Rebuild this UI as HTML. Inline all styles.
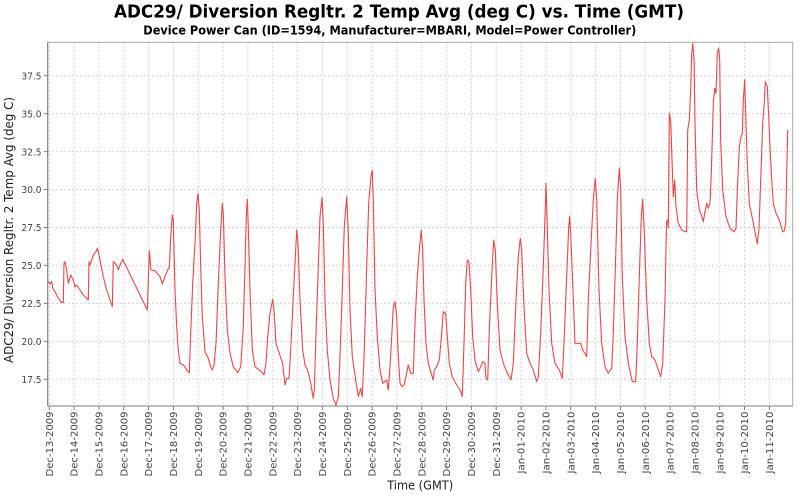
<!DOCTYPE html>
<html>
<head>
<meta charset="utf-8">
<style>
html,body{margin:0;padding:0;background:#fff;}
svg{display:block;}
text{font-family:"DejaVu Sans","Liberation Sans",sans-serif;}
</style>
</head>
<body>
<svg width="800" height="500" viewBox="0 0 800 500" xmlns="http://www.w3.org/2000/svg">
<rect x="0" y="0" width="800" height="500" fill="#fff"/>
<!-- Title -->
<text x="114" y="17.5" font-size="18" font-weight="bold" fill="#000" textLength="570" lengthAdjust="spacingAndGlyphs">ADC29/ Diversion Regltr. 2 Temp Avg (deg C) vs. Time (GMT)</text>
<text x="143.3" y="34.3" font-size="12" font-weight="bold" fill="#000" textLength="493" lengthAdjust="spacingAndGlyphs">Device Power Can (ID=1594, Manufacturer=MBARI, Model=Power Controller)</text>

<!-- plot background -->
<rect x="47.7" y="42.3" width="745" height="363.7" fill="#fff"/>

<!-- grid -->
<g stroke="#d2d2d2" stroke-width="1" stroke-dasharray="2,2" fill="none">
<line x1="48" x2="792.7" y1="379.3" y2="379.3"/>
<line x1="48" x2="792.7" y1="341.35" y2="341.35"/>
<line x1="48" x2="792.7" y1="303.4" y2="303.4"/>
<line x1="48" x2="792.7" y1="265.4" y2="265.4"/>
<line x1="48" x2="792.7" y1="227.5" y2="227.5"/>
<line x1="48" x2="792.7" y1="189.55" y2="189.55"/>
<line x1="48" x2="792.7" y1="151.6" y2="151.6"/>
<line x1="48" x2="792.7" y1="113.65" y2="113.65"/>
<line x1="48" x2="792.7" y1="75.7" y2="75.7"/>
<line y1="42.3" y2="406" x1="49.3" x2="49.3"/>
<line y1="42.3" y2="406" x1="74.1" x2="74.1"/>
<line y1="42.3" y2="406" x1="99.0" x2="99.0"/>
<line y1="42.3" y2="406" x1="123.8" x2="123.8"/>
<line y1="42.3" y2="406" x1="148.6" x2="148.6"/>
<line y1="42.3" y2="406" x1="173.5" x2="173.5"/>
<line y1="42.3" y2="406" x1="198.3" x2="198.3"/>
<line y1="42.3" y2="406" x1="223.1" x2="223.1"/>
<line y1="42.3" y2="406" x1="247.9" x2="247.9"/>
<line y1="42.3" y2="406" x1="272.8" x2="272.8"/>
<line y1="42.3" y2="406" x1="297.6" x2="297.6"/>
<line y1="42.3" y2="406" x1="322.4" x2="322.4"/>
<line y1="42.3" y2="406" x1="347.3" x2="347.3"/>
<line y1="42.3" y2="406" x1="372.1" x2="372.1"/>
<line y1="42.3" y2="406" x1="396.9" x2="396.9"/>
<line y1="42.3" y2="406" x1="421.8" x2="421.8"/>
<line y1="42.3" y2="406" x1="446.6" x2="446.6"/>
<line y1="42.3" y2="406" x1="471.4" x2="471.4"/>
<line y1="42.3" y2="406" x1="496.2" x2="496.2"/>
<line y1="42.3" y2="406" x1="521.1" x2="521.1"/>
<line y1="42.3" y2="406" x1="545.9" x2="545.9"/>
<line y1="42.3" y2="406" x1="570.7" x2="570.7"/>
<line y1="42.3" y2="406" x1="595.6" x2="595.6"/>
<line y1="42.3" y2="406" x1="620.4" x2="620.4"/>
<line y1="42.3" y2="406" x1="645.2" x2="645.2"/>
<line y1="42.3" y2="406" x1="670.1" x2="670.1"/>
<line y1="42.3" y2="406" x1="694.9" x2="694.9"/>
<line y1="42.3" y2="406" x1="719.7" x2="719.7"/>
<line y1="42.3" y2="406" x1="744.5" x2="744.5"/>
<line y1="42.3" y2="406" x1="769.4" x2="769.4"/>
</g>

<!-- series -->
<polyline fill="none" stroke="#e8474a" stroke-width="1.1" stroke-linejoin="round" points="
47.7,281 50,284 51.7,281.7 52.7,288 55,291.7 58.3,298.3 60.7,301.7 63.3,302.7 64,263.3 65,261.7 66.7,270 68.3,283.3 70.7,275 73.3,280 75,286.7 76.7,285 80,290 83.3,295 86.7,298.3 88.3,300 89,261.7 90,265 91.7,260 93.3,255 96,251.7 97.3,248.3 98.3,251.7 100,260 103.3,276.7 106.7,290 110,300 112.3,306.7 113.3,261.7 115,263.3 116.7,265 118.3,270 120,265 122.7,259.3 147.3,310 149.3,250.7 151,270 155,270.7 160,276.7 162.3,284 165,276.7 168.3,268.3 169.3,268.3 170.7,236.7 172.3,215 173.3,220
175,290 176.7,326.7 178.3,350 180,363.3 183.3,365 185,366.7 186.7,370 189.3,372.7 190.7,333.3 192.7,283.3 195,243.3 196.7,203.3 198,193.3 199.3,210 200.7,266.7 202.3,316.7 205,351.7 208.3,358.3 210.7,366.7 212.3,370 214,365 216,343.3 218.3,283.3 220.7,230 222.3,203.3 223.3,213.3 225,276.7 227.3,330 230,353.3 233.3,366.7 237.7,372.7 240.7,366.7 243.3,326.7 245,266.7 246.3,216.7 247.3,199.3 248.3,226.7 250,290 252.3,350 255,366.7 258.3,369.3 261.7,371.7 264,375 266,363.3 267.7,336.7 270,313.3 272.7,299.3 274,310 276,343.3 279.3,353.3 282.7,363.3 285,385 286.7,378.3 289,378.3 290.7,350 293.3,296.7 295.7,250 296.7,230 298,243.3 300,300 302.7,350 305,365 307.7,370 310.7,383.3 313.3,398.3 314.3,390 316,333.3 318.3,266.7 320,216.7 322,197.7 323.3,223.3 325,300 327.3,350 330,380 333.3,398.3 336,405 338.3,396.7 340,356.7 342.3,290 344.3,226.7 346.7,196.7 348.3,233.3 350,310 352.3,356.7 355.7,380 358.3,396.7 360.7,388.3 362.3,396.7 364.3,350 366.7,266.7 368.7,203.3 371,176.7 372.3,170 373.3,200 375,290 377.3,336.7 380,370 382.7,383.3 386.7,380 388.3,390 390,366.7 391.7,336.7 393.3,306.7 395,301.7 396.7,316.7 398.3,356.7 400,383.3 402,386.7 404,385 406,376.7 408.3,365 410.7,373.3 413.3,373.3
415,323.3 417.3,276.7 419.3,250 421.3,230 422.7,250 424,300 426,343.3 428.3,363.3 430.7,371.7 433.3,380 434.3,370 436.7,366.7 439.3,360 441.7,333.3 443.3,311.7 445.7,313.3 447.3,336.7 449.3,363.3 452.3,376.7 456.7,385 460,390 462.3,396.7 464,343.3 465.7,283.3 467.3,260 469,261.7 470.7,290 472.7,336.7 475,360 478.3,371.7 480.7,366.7 482.7,361.7 485,363.3 486,378.3 487.7,380 489.3,330 491.7,276.7 493.7,240 495.3,250 497.3,303.3 500,350 503.3,363.3 506.7,371.7 511,380 513.3,363.3 516,300 518.3,256.7 520.3,238.3 521.7,250 524,306.7 526.7,353.3 530,363.3 533.3,370 536.7,381.7 538.3,376.7 540.7,333.3 543.3,266.7 545,216.7 546,183.3 547,216.7 549,290 551.7,343.3 555,363.3 559.3,370 562.3,378.3 564,343.3 566.7,276.7 568.7,226.7 569.7,216.7 571,240 572.7,283.3 575,343.3 578.3,343.3 580.7,343.3 582.7,350 586.7,356.7 588.3,300 590.7,250 593.3,200 595.3,178.3 596.7,200 599,290 601.7,343.3 605,366.7 608.3,373.3 611.7,368.3 613.3,333.3 615.7,256.7 617.3,200 619.3,168.3 620.7,190 622.3,276.7 625,336.7 628.3,363.3 632.3,381.7 635.7,381.7 637.3,343.3 639.3,276.7 641.3,216.7 642.7,199.3 644.3,233.3 646.7,300 649.3,343.3 651.7,356.7 655,360 658.3,370 660.7,376.7 662.7,363.3 665,300 666.5,222 667.5,220 668.3,228
669.3,113.3 670.7,120 672,160 673.3,196.7 674.7,180 676,206.7 678.3,223.3 681.7,230 685,231.7 686.7,231.7 687.7,130 689.3,120 690.7,90 691.7,53.3 692.7,43.3 694,60 695,123.3 696.7,190 699.3,210 702,216.7 703.3,221.7 705.3,210 706.7,203.3 708.3,208.3 710,203.3 711.3,173.3 713.3,103.3 714.7,88.3 716,93.3 717.3,53.3 718.7,48.3 719.7,60 720.7,140 722.7,190 726,216.7 730,228.3 734,231.7 736,228.3 737.3,190 739.3,146.7 741,136.7 742.3,133.3 743.3,100 744.7,80 746,123.3 747.3,163.3 749.3,203.3 752.7,220 755.3,233.3 757.3,244 759,228.3 760.7,180 762.7,123.3 764,106.7 765.3,81.7 767.3,86.7 768.7,116.7 770,146.7 771.7,180 773.3,203.3 776,213.3 779.3,220 782.7,231.7 784.3,230.7 785.7,223.3 786.7,173.3 787.7,130"/>

<!-- plot border / axes -->
<rect x="47.7" y="42.3" width="745" height="363.7" fill="none" stroke="#a8a8a8" stroke-width="1"/>
<line x1="47.7" y1="42.3" x2="47.7" y2="406" stroke="#7f7f7f" stroke-width="1"/>
<line x1="47.7" y1="406" x2="792.7" y2="406" stroke="#7f7f7f" stroke-width="1"/>

<!-- y ticks -->
<g stroke="#7f7f7f" stroke-width="1">
<line x1="43.7" x2="47.7" y1="379.3" y2="379.3"/>
<line x1="43.7" x2="47.7" y1="341.35" y2="341.35"/>
<line x1="43.7" x2="47.7" y1="303.4" y2="303.4"/>
<line x1="43.7" x2="47.7" y1="265.4" y2="265.4"/>
<line x1="43.7" x2="47.7" y1="227.5" y2="227.5"/>
<line x1="43.7" x2="47.7" y1="189.55" y2="189.55"/>
<line x1="43.7" x2="47.7" y1="151.6" y2="151.6"/>
<line x1="43.7" x2="47.7" y1="113.65" y2="113.65"/>
<line x1="43.7" x2="47.7" y1="75.7" y2="75.7"/>
</g>
<g font-size="10" fill="#444" text-anchor="end">
<text x="41.5" y="383" textLength="20" lengthAdjust="spacingAndGlyphs">17.5</text>
<text x="41.5" y="345" textLength="20" lengthAdjust="spacingAndGlyphs">20.0</text>
<text x="41.5" y="307.1" textLength="20" lengthAdjust="spacingAndGlyphs">22.5</text>
<text x="41.5" y="269.1" textLength="20" lengthAdjust="spacingAndGlyphs">25.0</text>
<text x="41.5" y="231.2" textLength="20" lengthAdjust="spacingAndGlyphs">27.5</text>
<text x="41.5" y="193.2" textLength="20" lengthAdjust="spacingAndGlyphs">30.0</text>
<text x="41.5" y="155.3" textLength="20" lengthAdjust="spacingAndGlyphs">32.5</text>
<text x="41.5" y="117.3" textLength="20" lengthAdjust="spacingAndGlyphs">35.0</text>
<text x="41.5" y="79.4" textLength="20" lengthAdjust="spacingAndGlyphs">37.5</text>
</g>

<!-- x ticks -->
<g stroke="#7f7f7f" stroke-width="1">
<line y1="406" y2="410" x1="49.3" x2="49.3"/>
<line y1="406" y2="410" x1="74.1" x2="74.1"/>
<line y1="406" y2="410" x1="99.0" x2="99.0"/>
<line y1="406" y2="410" x1="123.8" x2="123.8"/>
<line y1="406" y2="410" x1="148.6" x2="148.6"/>
<line y1="406" y2="410" x1="173.5" x2="173.5"/>
<line y1="406" y2="410" x1="198.3" x2="198.3"/>
<line y1="406" y2="410" x1="223.1" x2="223.1"/>
<line y1="406" y2="410" x1="247.9" x2="247.9"/>
<line y1="406" y2="410" x1="272.8" x2="272.8"/>
<line y1="406" y2="410" x1="297.6" x2="297.6"/>
<line y1="406" y2="410" x1="322.4" x2="322.4"/>
<line y1="406" y2="410" x1="347.3" x2="347.3"/>
<line y1="406" y2="410" x1="372.1" x2="372.1"/>
<line y1="406" y2="410" x1="396.9" x2="396.9"/>
<line y1="406" y2="410" x1="421.8" x2="421.8"/>
<line y1="406" y2="410" x1="446.6" x2="446.6"/>
<line y1="406" y2="410" x1="471.4" x2="471.4"/>
<line y1="406" y2="410" x1="496.2" x2="496.2"/>
<line y1="406" y2="410" x1="521.1" x2="521.1"/>
<line y1="406" y2="410" x1="545.9" x2="545.9"/>
<line y1="406" y2="410" x1="570.7" x2="570.7"/>
<line y1="406" y2="410" x1="595.6" x2="595.6"/>
<line y1="406" y2="410" x1="620.4" x2="620.4"/>
<line y1="406" y2="410" x1="645.2" x2="645.2"/>
<line y1="406" y2="410" x1="670.1" x2="670.1"/>
<line y1="406" y2="410" x1="694.9" x2="694.9"/>
<line y1="406" y2="410" x1="719.7" x2="719.7"/>
<line y1="406" y2="410" x1="744.5" x2="744.5"/>
<line y1="406" y2="410" x1="769.4" x2="769.4"/>
</g>
<g font-size="10" fill="#444" text-anchor="end">
<text transform="translate(52.9,411.5) rotate(-90)" textLength="65" lengthAdjust="spacingAndGlyphs">Dec-13-2009</text>
<text transform="translate(77.7,411.5) rotate(-90)" textLength="65" lengthAdjust="spacingAndGlyphs">Dec-14-2009</text>
<text transform="translate(102.6,411.5) rotate(-90)" textLength="65" lengthAdjust="spacingAndGlyphs">Dec-15-2009</text>
<text transform="translate(127.4,411.5) rotate(-90)" textLength="65" lengthAdjust="spacingAndGlyphs">Dec-16-2009</text>
<text transform="translate(152.2,411.5) rotate(-90)" textLength="65" lengthAdjust="spacingAndGlyphs">Dec-17-2009</text>
<text transform="translate(177.1,411.5) rotate(-90)" textLength="65" lengthAdjust="spacingAndGlyphs">Dec-18-2009</text>
<text transform="translate(201.9,411.5) rotate(-90)" textLength="65" lengthAdjust="spacingAndGlyphs">Dec-19-2009</text>
<text transform="translate(226.7,411.5) rotate(-90)" textLength="65" lengthAdjust="spacingAndGlyphs">Dec-20-2009</text>
<text transform="translate(251.5,411.5) rotate(-90)" textLength="65" lengthAdjust="spacingAndGlyphs">Dec-21-2009</text>
<text transform="translate(276.4,411.5) rotate(-90)" textLength="65" lengthAdjust="spacingAndGlyphs">Dec-22-2009</text>
<text transform="translate(301.2,411.5) rotate(-90)" textLength="65" lengthAdjust="spacingAndGlyphs">Dec-23-2009</text>
<text transform="translate(326.0,411.5) rotate(-90)" textLength="65" lengthAdjust="spacingAndGlyphs">Dec-24-2009</text>
<text transform="translate(350.9,411.5) rotate(-90)" textLength="65" lengthAdjust="spacingAndGlyphs">Dec-25-2009</text>
<text transform="translate(375.7,411.5) rotate(-90)" textLength="65" lengthAdjust="spacingAndGlyphs">Dec-26-2009</text>
<text transform="translate(400.5,411.5) rotate(-90)" textLength="65" lengthAdjust="spacingAndGlyphs">Dec-27-2009</text>
<text transform="translate(425.4,411.5) rotate(-90)" textLength="65" lengthAdjust="spacingAndGlyphs">Dec-28-2009</text>
<text transform="translate(450.2,411.5) rotate(-90)" textLength="65" lengthAdjust="spacingAndGlyphs">Dec-29-2009</text>
<text transform="translate(475.0,411.5) rotate(-90)" textLength="65" lengthAdjust="spacingAndGlyphs">Dec-30-2009</text>
<text transform="translate(499.8,411.5) rotate(-90)" textLength="65" lengthAdjust="spacingAndGlyphs">Dec-31-2009</text>
<text transform="translate(524.7,411.5) rotate(-90)" textLength="62" lengthAdjust="spacingAndGlyphs">Jan-01-2010</text>
<text transform="translate(549.5,411.5) rotate(-90)" textLength="62" lengthAdjust="spacingAndGlyphs">Jan-02-2010</text>
<text transform="translate(574.3,411.5) rotate(-90)" textLength="62" lengthAdjust="spacingAndGlyphs">Jan-03-2010</text>
<text transform="translate(599.2,411.5) rotate(-90)" textLength="62" lengthAdjust="spacingAndGlyphs">Jan-04-2010</text>
<text transform="translate(624.0,411.5) rotate(-90)" textLength="62" lengthAdjust="spacingAndGlyphs">Jan-05-2010</text>
<text transform="translate(648.8,411.5) rotate(-90)" textLength="62" lengthAdjust="spacingAndGlyphs">Jan-06-2010</text>
<text transform="translate(673.7,411.5) rotate(-90)" textLength="62" lengthAdjust="spacingAndGlyphs">Jan-07-2010</text>
<text transform="translate(698.5,411.5) rotate(-90)" textLength="62" lengthAdjust="spacingAndGlyphs">Jan-08-2010</text>
<text transform="translate(723.3,411.5) rotate(-90)" textLength="62" lengthAdjust="spacingAndGlyphs">Jan-09-2010</text>
<text transform="translate(748.1,411.5) rotate(-90)" textLength="62" lengthAdjust="spacingAndGlyphs">Jan-10-2010</text>
<text transform="translate(773.0,411.5) rotate(-90)" textLength="62" lengthAdjust="spacingAndGlyphs">Jan-11-2010</text>
</g>

<!-- axis labels -->
<text x="420.2" y="489.3" font-size="12" fill="#222" text-anchor="middle" textLength="66" lengthAdjust="spacingAndGlyphs">Time (GMT)</text>
<text transform="translate(12.8,230) rotate(-90)" font-size="12" fill="#222" text-anchor="middle" textLength="266" lengthAdjust="spacingAndGlyphs">ADC29/ Diversion Regltr. 2 Temp Avg (deg C)</text>
</svg>
</body>
</html>
